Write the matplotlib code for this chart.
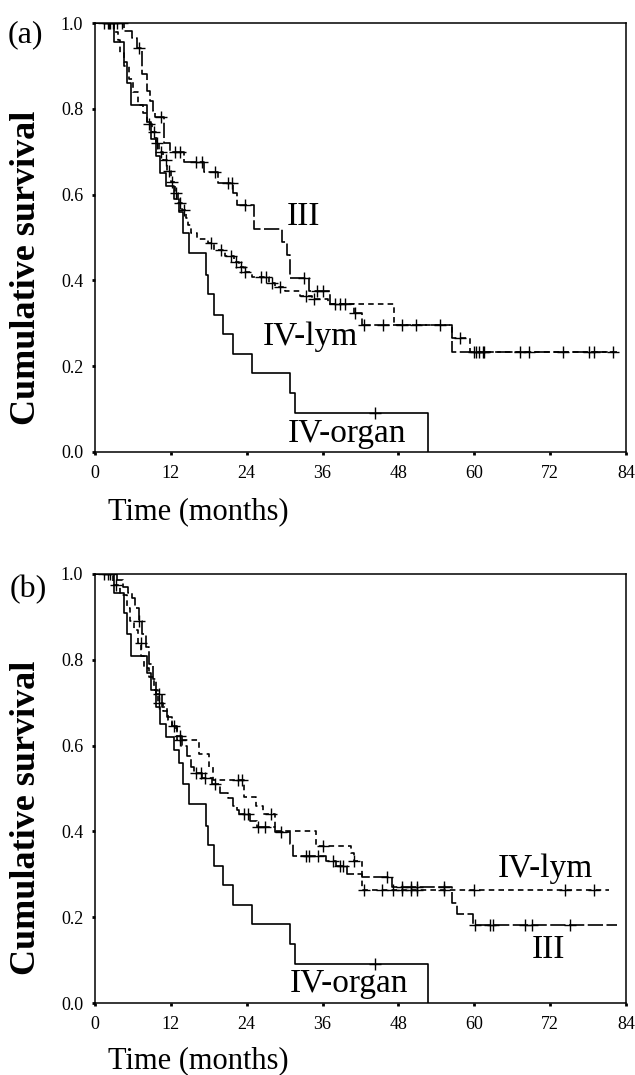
import numpy as np
import matplotlib
matplotlib.use("Agg")
import matplotlib.pyplot as plt

plt.rcParams['font.family'] = ['Liberation Serif', 'DejaVu Serif']
plt.rcParams['lines.scale_dashes'] = False

# ---------------- Data ----------------
xticks = [0, 12, 24, 36, 48, 60, 72, 84]
yticks = [0.0, 0.2, 0.4, 0.6, 0.8, 1.0]

# IV-organ (same group in both panels)
org_t = [0, 3.0, 4.6, 5.1, 5.7, 8.2, 8.8, 9.6, 10.3, 11.2, 12.5, 13.3, 13.9, 14.9,
         17.6, 17.9, 18.8, 20.2, 21.8, 24.9, 30.9, 31.7, 52.7]
org_s = [1.0, 0.955, 0.91, 0.86, 0.81, 0.77, 0.73, 0.69, 0.65, 0.62, 0.59, 0.56, 0.51, 0.464,
         0.412, 0.368, 0.32, 0.276, 0.229, 0.183, 0.137, 0.092, 0.0]
org_cens = [2.4, 44.3]

# Panel (a)
a_III_t = [0, 4.6, 5.9, 6.6, 7.5, 8.2, 8.7, 9.1, 9.5, 10.9, 11.9, 14.0, 17.2, 19.5, 21.9, 22.4,
           25.1, 29.6, 30.4, 30.9, 33.8, 37.2, 40.9, 42.2, 56.5]
a_III_s = [1.0, 0.981, 0.965, 0.942, 0.881, 0.842, 0.819, 0.796, 0.78, 0.721, 0.70, 0.677, 0.652,
           0.628, 0.604, 0.575, 0.52, 0.49, 0.46, 0.405, 0.376, 0.344, 0.324, 0.295, 0.233]
a_III_end = 82.5
a_III_cens = [2.0, 3.5, 4.3, 7.0, 10.4, 12.7, 13.5, 15.9, 16.9, 19.0, 21.1, 21.6, 23.7, 33.0,
              35.1, 36.1, 38.0, 38.8, 39.6, 41.2, 42.5, 45.6, 48.5, 50.8, 54.6, 60.2, 61.3,
              68.6, 74.1, 78.9]

a_lym_t = [0, 3.0, 3.6, 4.0, 4.6, 5.3, 6.0, 6.8, 7.6, 8.2, 9.0, 9.6, 10.2, 10.8, 11.4, 12.0,
           12.6, 13.2, 13.8, 14.4, 14.7, 15.2, 16.2, 17.8, 18.9, 20.5, 22.0, 22.8, 23.5, 24.8,
           27.5, 28.5, 30.0, 32.5, 34.3, 36.8, 47.3, 56.5, 59.4]
a_lym_s = [1.0, 0.98, 0.96, 0.93, 0.90, 0.87, 0.84, 0.81, 0.79, 0.765, 0.745, 0.72, 0.70, 0.68,
           0.655, 0.63, 0.604, 0.58, 0.565, 0.545, 0.53, 0.51, 0.496, 0.487, 0.47, 0.458, 0.444,
           0.432, 0.42, 0.408, 0.395, 0.385, 0.376, 0.364, 0.356, 0.344, 0.295, 0.266, 0.233]
a_lym_end = 82.0
a_lym_cens = [1.5, 2.2, 2.8, 8.5, 9.3, 9.8, 10.5, 11.2, 11.7, 12.2, 12.8, 13.4, 14.0, 18.3,
              19.9, 21.5, 22.3, 23.1, 23.8, 26.2, 27.0, 28.0, 29.3, 33.3, 34.6, 57.7, 59.9,
              60.8, 61.6, 67.3, 78.1, 82.0]

# Panel (b)
b_III_t = [0, 3.5, 4.5, 5.2, 5.9, 6.3, 6.9, 7.5, 8.0, 8.5, 9.1, 9.6, 10.6, 11.4, 12.2, 13.0,
           13.8, 14.6, 15.2, 15.7, 17.0, 18.5, 19.8, 21.0, 21.9, 22.4, 22.8, 24.5, 25.6, 28.5,
           30.8, 31.3, 36.5, 38.2, 39.8, 42.3, 47.0, 56.5, 57.3, 59.8]
b_III_s = [1.0, 0.985, 0.97, 0.955, 0.945, 0.92, 0.89, 0.86, 0.83, 0.79, 0.755, 0.72, 0.69,
           0.667, 0.646, 0.623, 0.60, 0.575, 0.55, 0.535, 0.525, 0.51, 0.49, 0.478, 0.46, 0.45,
           0.44, 0.425, 0.41, 0.398, 0.37, 0.343, 0.33, 0.32, 0.30, 0.293, 0.27, 0.233, 0.207,
           0.182]
b_III_end = 82.5
b_III_cens = [2.0, 7.0, 10.1, 12.5, 13.5, 16.0, 16.7, 17.4, 19.0, 23.5, 24.2, 25.8, 26.9, 29.5,
              33.4, 33.9, 35.2, 37.6, 38.8, 39.2, 46.2, 48.6, 50.0, 51.0, 55.2, 60.1, 62.5,
              63.0, 68.0, 69.1, 75.2]

b_lym_t = [0, 2.8, 4.0, 5.0, 5.5, 6.2, 6.8, 7.3, 7.8, 8.5, 9.3, 10.0, 10.8, 11.5, 12.2, 13.0,
           16.4, 18.0, 18.6, 23.5, 25.5, 26.5, 28.5, 35.0, 40.5, 40.9, 42.3]
b_lym_s = [1.0, 0.975, 0.95, 0.92, 0.89, 0.87, 0.84, 0.81, 0.78, 0.76, 0.73, 0.70, 0.68, 0.66,
           0.64, 0.612, 0.58, 0.55, 0.52, 0.48, 0.46, 0.44, 0.40, 0.367, 0.35, 0.33, 0.263]
b_lym_end = 81.3
b_lym_cens = [1.5, 3.3, 7.2, 10.1, 13.5, 22.7, 23.2, 27.9, 36.0, 41.0, 42.6, 45.4, 47.1, 48.6,
              50.0, 51.0, 55.2, 59.9, 74.4, 78.9]

# ---------------- Figure ----------------
W, H = 635, 1075
fig = plt.figure(figsize=(W / 100, H / 100), dpi=100)


def px_box(left, top, right, bottom):
    return [left / W, 1 - bottom / H, (right - left) / W, (bottom - top) / H]


LW = 1.2
DASH_LYM = (4, 3)
DASH_III = (11, 2.5)


def km(ax, t, s, end, cens, dashes=None):
    t = list(t)
    s = list(s)
    if end is not None and end > t[-1]:
        t = t + [end]
        s = s + [s[-1]]
    line, = ax.step(t, s, where='post', color='black', lw=LW)
    if dashes is not None:
        line.set_dashes(dashes)
    if cens:
        st = np.array(t)
        ss = np.array(s)
        ct = np.array(cens)
        idx = np.searchsorted(st, ct, side='right') - 1
        ax.plot(ct, ss[idx], linestyle='none', marker='+', color='black',
                markersize=8, mew=1.0)


def style(ax):
    ax.set_xlim(0, 84)
    ax.set_ylim(0, 1.0)
    ax.set_xticks(xticks)
    ax.set_yticks(yticks)
    ax.set_xticklabels([str(v) for v in xticks])
    ax.set_yticklabels([f"{v:.1f}" for v in yticks])
    for sp in ax.spines.values():
        sp.set_linewidth(1.1)
    ax.tick_params(direction='out', length=2.5, width=2.0, labelsize=13, pad=6)
    ax.tick_params(axis='x', pad=7)


def text_px(x, y, s, size, **kw):
    fig.text(x / W, 1 - y / H, s, fontsize=size, color='black', **kw)


# Panel (a)
axa = fig.add_axes(px_box(95, 23, 626, 452))
km(axa, org_t, org_s, None, org_cens)
km(axa, a_III_t, a_III_s, a_III_end, a_III_cens, DASH_III)
km(axa, a_lym_t, a_lym_s, a_lym_end, a_lym_cens, DASH_LYM)
style(axa)
text_px(287, 225, "III", 24, va='baseline', ha='left')
text_px(263, 345, "IV-lym", 24, va='baseline', ha='left')
text_px(288, 442, "IV-organ", 24, va='baseline', ha='left')
text_px(25, 35, "(a)", 23, va='center', ha='center')
text_px(27, 268, "Cumulative survival", 26, va='center', ha='center',
        rotation=90, fontweight='bold')
text_px(108, 512, "Time (months)", 22, va='center', ha='left')

# Panel (b)
axb = fig.add_axes(px_box(95, 574, 626, 1003))
km(axb, org_t, org_s, None, org_cens)
km(axb, b_III_t, b_III_s, b_III_end, b_III_cens, DASH_III)
km(axb, b_lym_t, b_lym_s, b_lym_end, b_lym_cens, DASH_LYM)
style(axb)
text_px(498, 877, "IV-lym", 24, va='baseline', ha='left')
text_px(532, 958, "III", 24, va='baseline', ha='left')
text_px(290, 992, "IV-organ", 24, va='baseline', ha='left')
text_px(28, 590, "(b)", 23, va='center', ha='center')
text_px(27, 818, "Cumulative survival", 26, va='center', ha='center',
        rotation=90, fontweight='bold')
text_px(108, 1061, "Time (months)", 22, va='center', ha='left')

fig.savefig("out.png", dpi=100)
